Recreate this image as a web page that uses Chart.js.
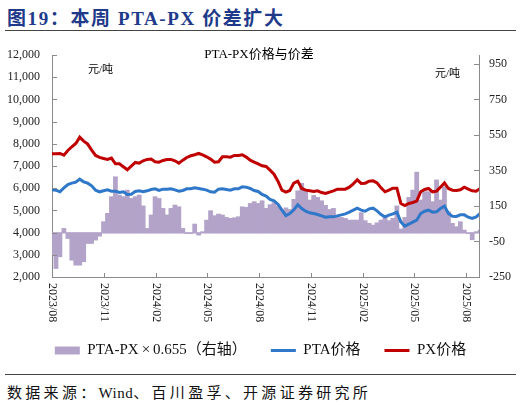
<!DOCTYPE html>
<html><head><meta charset="utf-8">
<script src="https://cdn.jsdelivr.net/npm/chart.js@4.4.1/dist/chart.umd.min.js"></script>
<style>
html,body{margin:0;padding:0;background:#fff;}
body{width:521px;height:405px;position:relative;overflow:hidden;font-family:"Liberation Serif","Noto Sans CJK SC",serif;color:#000;}
#hdr{position:absolute;left:7px;top:3px;font-size:19px;font-weight:bold;color:#1F3A8A;letter-spacing:1.6px;white-space:nowrap;}
#rule1{position:absolute;left:5px;top:30px;width:511px;height:0;border-top:1px solid #444;}
#rule2{position:absolute;left:5px;top:374px;width:511px;height:0;border-top:1px solid #444;}
#foot{position:absolute;left:7px;top:381px;font-size:15px;color:#111;letter-spacing:3.3px;white-space:nowrap;}
#foot .lat{letter-spacing:0.5px;}
#wrap{position:absolute;left:0;top:35px;width:521px;height:335px;}
#ctitle{position:absolute;top:43px;left:0;width:518px;text-align:center;font-size:13px;white-space:nowrap;}
.unit{position:absolute;font-size:11px;white-space:nowrap;}
</style></head>
<body>
<div id="hdr">图19：本周 PTA-PX 价差扩大</div>
<div id="rule1"></div>
<div id="wrap"><canvas id="c" width="521" height="335"></canvas></div>
<div id="ctitle">PTA-PX价格与价差</div>
<div class="unit" style="left:88px;top:60px;">元/吨</div>
<div class="unit" style="left:435px;top:64px;">元/吨</div>
<div id="rule2"></div>
<div id="foot">数据来源：<span class="lat">Wind</span>、百川盈孚、开源证券研究所</div>
<script>
// weekly observations starting from this date
const weekStart = '2023-08-01';
const axisEnd = '2025-08-24';
const tickMonths = ['2023/08','2023/11','2024/02','2024/05','2024/08','2024/11','2025/02','2025/05','2025/08'];
const leftMin = 2000, leftMax = 12000, leftStep = 1000;
const rightMin = -250, rightMax = 1000;
const rightTicks = [-250, -50, 150, 350, 550, 750, 950];
const seriesNames = ['PTA-PX\u2009×\u20090.655（右轴）', 'PTA价格', 'PX价格'];

const pxPrice = [
  7550, 7550, 7565, 7490, 7700, 7866, 8016, 8301, 8121, 7986, 7715, 7475, 7385, 7340, 7295, 7355, 7099, 7099, 6964, 6829, 6994, 7159, 7129, 7234, 7295, 7310, 7189, 7174,
  7249, 7295, 7295, 7234, 7129, 7264, 7385, 7460, 7505, 7565, 7505, 7415, 7310, 7174, 7189, 7415, 7415, 7400, 7475, 7475, 7505, 7400, 7264, 7174, 7099, 7009,
  6979, 6814, 6633, 6318, 5912, 5822, 5897, 6227, 6318, 5987, 5912, 5882, 5852, 5882, 5806, 5761, 5822, 5882, 5957, 5957, 5957, 6047, 6197, 6378, 6213, 6227, 6318,
  6333, 6242, 6017, 5837, 5912, 6002, 6002, 5311, 5220, 5311, 5356, 5416, 5837, 5942, 5987, 5837, 5867, 6047, 6242, 5987, 5912, 5897, 5927, 6047, 5957, 5882, 5867, 5987
];
const ptaPrice = [
  5927, 5912, 5837, 6017, 6167, 6227, 6272, 6408, 6288, 6227, 6107, 5912, 5837, 5882, 5927, 5867, 5867, 5806, 5837, 5716, 5731, 5852, 5882, 5837, 5882, 5942, 5972, 5897,
  5957, 5957, 5972, 5927, 5867, 5897, 5972, 5972, 6017, 5987, 5957, 5912, 5837, 5822, 5957, 5972, 5942, 5912, 5972, 5972, 6062, 6047, 5987, 5897, 5852, 5716,
  5641, 5491, 5431, 5281, 5010, 4770, 4860, 5025, 5251, 5085, 4965, 4890, 4860, 4815, 4755, 4695, 4710, 4710, 4755, 4800, 4845, 4920, 5010, 5100, 5010, 4965, 5070,
  5101, 4980, 4815, 4710, 4785, 4845, 4920, 4484, 4289, 4379, 4469, 4559, 4860, 4965, 5010, 4920, 4935, 5085, 5191, 4860, 4740, 4725, 4800, 4800, 4695, 4635, 4710, 4860
];
const spread = [
  -127, -202, -136, 23, -33, -155, -183, -183, -164, -61, -61, -42, -20, 61, 108, 202, 314, 211, 202, 239, 192, 202, 211, 150, 23, 99, 202, 192,
  136, 99, 136, 155, 145, 23, -5, -5, 48, -14, 5, 70, 123, 95, 104, 99, 85, 80, 83, 89, 145, 142, 164, 174, 164, 179,
  136, 157, 168, 149, 127, 139, 130, 187, 235, 277, 236, 183, 209, 198, 179, 153, 130, 136, 85, 85, 80, 70, 70, 70, 112, 67, 52,
  42, 55, 70, 89, 67, 80, 150, 20, 85, 198, 239, 340, 183, 230, 230, 174, 296, 183, 258, 117, 52, 33, 61, 14, -5, -40, 5, 14
];

const DAY = 86400000;
const t0 = Date.parse(weekStart + 'T00:00:00Z');
const dayOf = s => Math.round((Date.parse(s) - t0) / DAY);
const obsDays = ptaPrice.map((_, i) => i * 7);
const tickDays = tickMonths.map(m => { const [y, mo] = m.split('/'); return dayOf(y + '-' + mo + '-01T00:00:00Z'); });
const endDay = dayOf(axisEnd + 'T00:00:00Z');
const pts = arr => arr.map((v, i) => ({x: obsDays[i], y: v}));

const FONT = '"Liberation Serif", "Noto Sans CJK SC", serif';

const decor = {
  id: 'decor',
  beforeDatasetsDraw(chart) {
    const {ctx, chartArea: a, scales: {y1}} = chart;
    const py = Math.round(y1.getPixelForValue(0)) + 0.5;
    ctx.save();
    ctx.strokeStyle = '#D6CCE3'; ctx.lineWidth = 1.2;
    ctx.beginPath(); ctx.moveTo(a.left, py); ctx.lineTo(a.right, py); ctx.stroke();
    ctx.restore();
  },
  afterDraw(chart) {
    const {ctx, chartArea: a, scales: {x, y, y1}} = chart;
    ctx.save();
    ctx.strokeStyle = '#8a8a8a'; ctx.lineWidth = 1;
    ctx.beginPath();
    y.ticks.forEach(t => { const p = Math.round(y.getPixelForValue(t.value)) + 0.5; ctx.moveTo(a.left, p); ctx.lineTo(a.left + 5, p); });
    y1.ticks.forEach(t => { const p = Math.round(y1.getPixelForValue(t.value)) + 0.5; ctx.moveTo(a.right - 5, p); ctx.lineTo(a.right, p); });
    x.ticks.forEach(t => { const p = Math.round(x.getPixelForValue(t.value)) + 0.5; ctx.moveTo(p, a.bottom); ctx.lineTo(p, a.bottom - 4); });
    ctx.stroke();
    ctx.fillStyle = '#222';
    ctx.font = '12px ' + FONT;
    x.ticks.forEach((t, i) => {
      const p = x.getPixelForValue(t.value);
      ctx.save();
      ctx.translate(p, a.bottom + 6);
      ctx.rotate(Math.PI / 2);
      ctx.textAlign = 'left'; ctx.textBaseline = 'middle';
      ctx.fillText(tickMonths[i], 0, 0);
      ctx.restore();
    });
    ctx.restore();
  }
};

new Chart(document.getElementById('c'), {
  type: 'bar',
  data: {
    datasets: [
      { type: 'bar', label: seriesNames[0], data: pts(spread), yAxisID: 'y1',
        backgroundColor: '#B3A3C9', borderWidth: 0, barPercentage: 1, categoryPercentage: 1,
        inflateAmount: 0.4, pointStyle: 'rect', order: 2 },
      { type: 'line', label: seriesNames[1], data: pts(ptaPrice), yAxisID: 'y',
        borderColor: '#2F77C9', backgroundColor: '#2F77C9', borderWidth: 3, pointRadius: 0,
        tension: 0, pointStyle: 'line', order: 1 },
      { type: 'line', label: seriesNames[2], data: pts(pxPrice), yAxisID: 'y',
        borderColor: '#C00000', backgroundColor: '#C00000', borderWidth: 3, pointRadius: 0,
        tension: 0, pointStyle: 'line', order: 0 }
    ]
  },
  options: {
    responsive: false, animation: false, locale: 'en-US',
    layout: { padding: { top: 20, left: 0, right: 0, bottom: 2 } },
    plugins: {
      tooltip: { enabled: false },
      title: { display: false },
      legend: {
        position: 'bottom',
        labels: {
          usePointStyle: true, pointStyleWidth: 25, boxHeight: 8, padding: 24,
          color: '#111', font: { family: FONT, size: 15 },
          sort: (a, b) => a.datasetIndex - b.datasetIndex
        }
      }
    },
    scales: {
      x: {
        type: 'linear', min: 0, max: endDay, offset: false,
        grid: { display: false, offset: false },
        border: { display: true, color: '#8a8a8a', width: 1 },
        ticks: { display: false },
        afterBuildTicks: s => { s.ticks = tickDays.map(v => ({ value: v })); },
        afterFit: s => { s.height = 42; }
      },
      y: {
        position: 'left', min: leftMin, max: leftMax,
        ticks: { stepSize: leftStep, padding: 12, color: '#222', font: { family: FONT, size: 12 } },
        grid: { display: false, drawTicks: false },
        border: { display: true, color: '#8a8a8a', width: 1 },
        afterFit: s => { s.width = 52; }
      },
      y1: {
        position: 'right', min: rightMin, max: rightMax,
        ticks: { padding: 10, color: '#222', font: { family: FONT, size: 12 } },
        grid: { display: false, drawTicks: false },
        border: { display: true, color: '#8a8a8a', width: 1 },
        afterBuildTicks: s => { s.ticks = rightTicks.map(v => ({ value: v })); },
        afterFit: s => { s.width = 42; }
      }
    }
  },
  plugins: [decor]
});
</script>
</body></html>
